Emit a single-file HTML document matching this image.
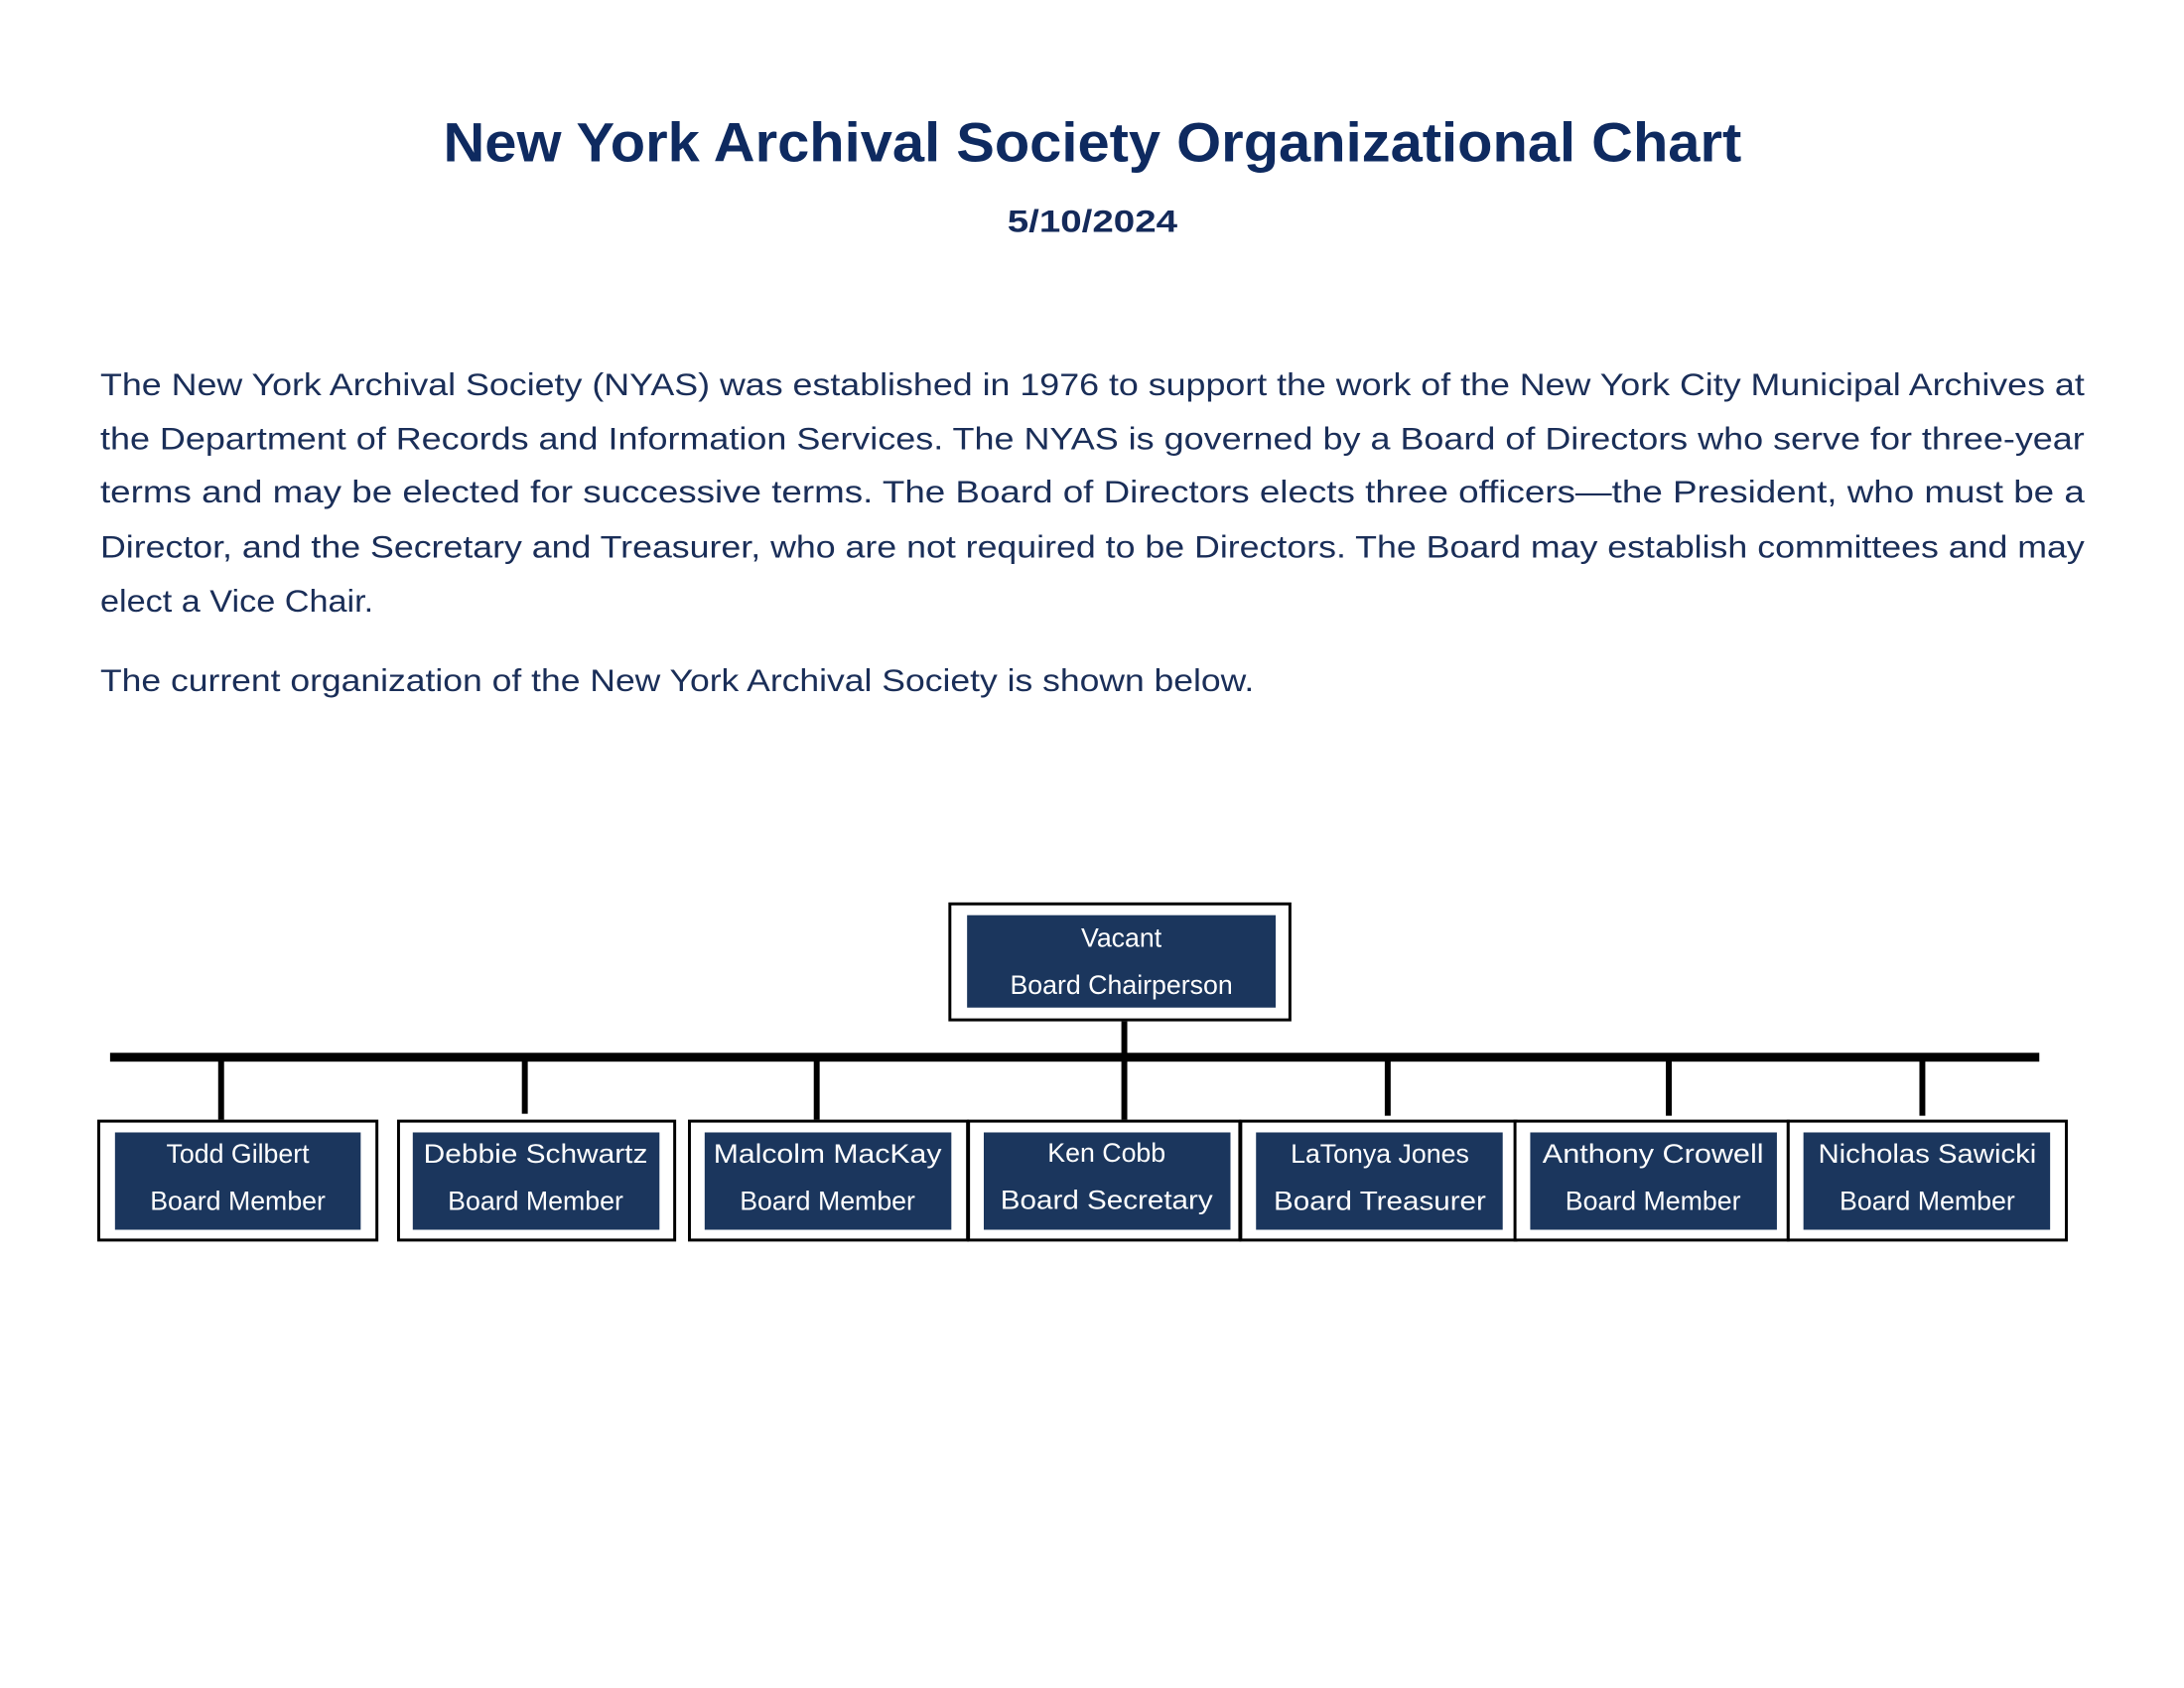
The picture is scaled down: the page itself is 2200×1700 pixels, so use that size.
<!DOCTYPE html>
<html><head><meta charset="utf-8"><style>
html,body{margin:0;padding:0;background:#fff;}
svg{display:block;}
</style></head><body>
<svg width="2200" height="1700" viewBox="0 0 2200 1700" xmlns="http://www.w3.org/2000/svg" font-family="'Liberation Sans', sans-serif">
<rect width="2200" height="1700" fill="#fff"/>
<g transform="scale(0.99)">
<text x="451" y="164" font-size="56" font-weight="bold" fill="#0e2a60" textLength="1321" lengthAdjust="spacingAndGlyphs">New York Archival Society Organizational Chart</text>
<text x="1025" y="236" font-size="32" font-weight="bold" fill="#142a5a" textLength="173" lengthAdjust="spacingAndGlyphs">5/10/2024</text>
<g font-size="32" fill="#1a2e58">
<text x="102" y="402" textLength="2019" lengthAdjust="spacingAndGlyphs">The New York Archival Society (NYAS) was established in 1976 to support the work of the New York City Municipal Archives at</text>
<text x="102" y="457" textLength="2019" lengthAdjust="spacingAndGlyphs">the Department of Records and Information Services.   The NYAS is governed by a Board of Directors who serve for three-year</text>
<text x="102" y="511" textLength="2019" lengthAdjust="spacingAndGlyphs">terms and may be elected for successive terms.  The Board of Directors elects three officers—the President, who must be a</text>
<text x="102" y="567" textLength="2019" lengthAdjust="spacingAndGlyphs">Director, and the Secretary and Treasurer, who are not required to be Directors.  The Board may establish committees and may</text>
<text x="102" y="622" textLength="278" lengthAdjust="spacingAndGlyphs">elect a Vice Chair.</text>
<text x="102" y="703" textLength="1174" lengthAdjust="spacingAndGlyphs">The current organization of the New York Archival Society is shown below.</text>
</g>
<rect x="1141" y="1039" width="6" height="36" fill="#000"/>
<rect x="112" y="1071" width="1963" height="9" fill="#000"/>
<g fill="#000">
<rect x="222" y="1075" width="6" height="64"/>
<rect x="531" y="1075" width="6" height="58"/>
<rect x="828" y="1075" width="6" height="64"/>
<rect x="1141" y="1075" width="6" height="64"/>
<rect x="1409" y="1075" width="6" height="60"/>
<rect x="1695" y="1075" width="6" height="60"/>
<rect x="1953" y="1075" width="6" height="60"/>
</g>
<rect x="966.5" y="919.5" width="346" height="118" fill="#fff" stroke="#000" stroke-width="3"/>
<rect x="984" y="931" width="314" height="94" fill="#1b365d"/>
<g fill="#fff" font-size="27" text-anchor="middle">
<text x="1141" y="963">Vacant</text>
<text x="1141" y="1011">Board Chairperson</text>
</g>
<g stroke="#000" stroke-width="3" fill="#fff">
<rect x="100.5" y="1140.5" width="283" height="121"/>
<rect x="405.5" y="1140.5" width="281" height="121"/>
<rect x="701.5" y="1140.5" width="283" height="121"/>
<rect x="985.5" y="1140.5" width="276" height="121"/>
<rect x="1262.5" y="1140.5" width="280" height="121"/>
<rect x="1541.5" y="1140.5" width="278" height="121"/>
<rect x="1819.5" y="1140.5" width="283" height="121"/>
</g>
<g fill="#1b365d">
<rect x="117" y="1152" width="250" height="99"/>
<rect x="420" y="1152" width="251" height="99"/>
<rect x="717" y="1152" width="251" height="99"/>
<rect x="1001" y="1152" width="251" height="99"/>
<rect x="1278" y="1152" width="251" height="99"/>
<rect x="1557" y="1152" width="251" height="99"/>
<rect x="1835" y="1152" width="251" height="99"/>
</g>
<g fill="#fff" font-size="27" text-anchor="middle">
<text x="242" y="1183">Todd Gilbert</text><text x="242" y="1231">Board Member</text>
<text x="545" y="1183" textLength="228" lengthAdjust="spacingAndGlyphs">Debbie Schwartz</text><text x="545" y="1231">Board Member</text>
<text x="842" y="1183" textLength="232" lengthAdjust="spacingAndGlyphs">Malcolm MacKay</text><text x="842" y="1231">Board Member</text>
<text x="1126" y="1182">Ken Cobb</text><text x="1126" y="1230" textLength="216" lengthAdjust="spacingAndGlyphs">Board Secretary</text>
<text x="1404" y="1183">LaTonya Jones</text><text x="1404" y="1231" textLength="216" lengthAdjust="spacingAndGlyphs">Board Treasurer</text>
<text x="1682" y="1183" textLength="225" lengthAdjust="spacingAndGlyphs">Anthony Crowell</text><text x="1682" y="1231">Board Member</text>
<text x="1961" y="1183" textLength="222" lengthAdjust="spacingAndGlyphs">Nicholas Sawicki</text><text x="1961" y="1231">Board Member</text>
</g>
</g>
</svg>
</body></html>
